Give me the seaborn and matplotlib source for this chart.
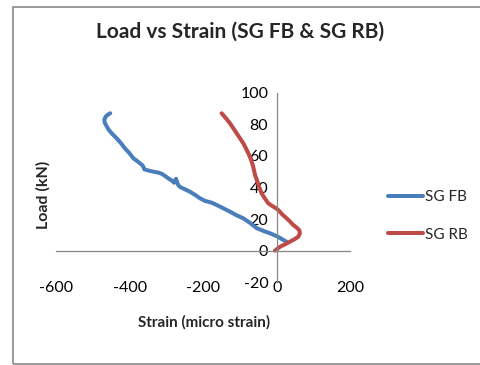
import numpy as np
import pandas as pd
import matplotlib
matplotlib.use("Agg")
import matplotlib.pyplot as plt
import seaborn as sns
from matplotlib.patches import Rectangle

# ---- data ----
fb_strain = [27, 18, 2, -18, -36, -54, -72, -91, -110, -127, -145, -163, -177, -195, -209,
             -222, -236, -250, -262, -268, -274, -279, -285, -295, -305, -313, -322, -335,
             -350, -360, -365, -372, -380, -390, -400, -413, -422, -431, -440, -449, -457,
             -463, -468, -469, -465, -458, -453]
fb_load = [5.7, 6.8, 9.0, 11.0, 12.5, 14.2, 17.5, 20.5, 22.5, 24.7, 26.8, 28.9, 30.4, 31.5, 33.2,
           35.3, 37.3, 38.9, 40.2, 41.5, 45.5, 43.0, 44.3, 45.8, 47.5, 48.7, 49.4, 50.0,
           50.8, 51.5, 54.0, 55.3, 56.8, 58.5, 61.5, 64.8, 67.5, 70.0, 72.2, 74.3, 76.5,
           78.9, 81.0, 83.0, 85.0, 86.3, 87.0]

rb_strain = [-5, 9, 25, 36, 50, 59, 63, 62, 55, 45, 36, 27, 15, 4, -5, -14, -23, -32, -41,
             -48, -54, -59, -64, -68, -73, -80, -86, -91, -100, -109, -118, -127, -138, -150]
rb_load = [0.0, 2.5, 4.3, 5.7, 7.5, 8.9, 11.0, 12.8, 14.5, 16.3, 18.5, 20.5, 23.0, 25.8, 27.3, 28.6,
           30.0, 33.0, 36.3, 40.5, 44.7, 48.0, 53.2, 56.3, 59.5, 63.0, 65.8, 68.0, 71.2, 74.3,
           77.5, 80.6, 83.8, 87.0]

series_names = ["SG FB", "SG RB"]
x_ticks = [-600, -400, -200, 0, 200]
y_ticks = [-20, 0, 20, 40, 60, 80, 100]

title_text = "Load vs Strain (SG FB & SG RB)"
x_label = "Strain (micro strain)"
y_label = "Load (kN)"

df = pd.concat([
    pd.DataFrame({"strain": fb_strain, "load": fb_load, "series": series_names[0],
                  "order": range(len(fb_strain))}),
    pd.DataFrame({"strain": rb_strain, "load": rb_load, "series": series_names[1],
                  "order": range(len(rb_strain))}),
], ignore_index=True)

sns.set_style("white")
plt.rcParams["font.family"] = ["Lato", "DejaVu Sans"]
plt.rcParams["axes.unicode_minus"] = False

W, H = 480, 365
fig = plt.figure(figsize=(W / 100, H / 100), dpi=100)

# axes placement (pixel-derived)
x0_px, x1_px = 56.2, 350.2
ytop_px, ybot_px = 92.7, 282.3
ax = fig.add_axes([x0_px / W, 1 - ybot_px / H, (x1_px - x0_px) / W, (ybot_px - ytop_px) / H])

palette = {"SG FB": "#4A7EBB", "SG RB": "#BE4B48"}
sns.lineplot(data=df, x="strain", y="load", hue="series", palette=palette, sort=False,
             estimator=None, units="series", linewidth=2.9, ax=ax, legend=True)

ax.set_xlim(-600, 200)
ax.set_ylim(-20, 100)
ax.set_xlabel("")
ax.set_ylabel("")

axis_col = "#868686"
for s in ["top", "right"]:
    ax.spines[s].set_visible(False)
ax.spines["left"].set_position(("data", 0))
ax.spines["bottom"].set_position(("data", 0))
for s in ["left", "bottom"]:
    ax.spines[s].set_color(axis_col)
    ax.spines[s].set_linewidth(0.9)

ax.set_yticks(y_ticks)
ax.set_xticks(x_ticks)
ax.tick_params(axis="y", direction="out", length=4, width=0.9, color=axis_col,
               labelsize=11.5, pad=2, labelcolor="black")
ax.tick_params(axis="x", direction="out", length=5, width=0.9, color=axis_col,
               labelbottom=False)

sec = ax.secondary_xaxis(0)
sec.set_xticks(x_ticks)
sec.tick_params(length=0, pad=-1, labelsize=11.5, labelcolor="black")
sec.spines["bottom"].set_visible(False)

# legend
handles, labels = ax.get_legend_handles_labels()
ax.legend_.remove()
leg = fig.legend(handles, labels, loc="center left", bbox_to_anchor=(388 / W, 1 - 216 / H),
                 frameon=False, fontsize=11, handlelength=2.3, handletextpad=0.15,
                 labelspacing=1.55, borderpad=0, borderaxespad=0)
for line in leg.get_lines():
    line.set_linewidth(2.9)

# titles / labels
fig.text(240 / W, 1 - 32 / H, title_text, ha="center", va="center", fontsize=15,
         fontweight="bold")
fig.text(204 / W, 1 - 322 / H, x_label, ha="center", va="center", fontsize=11,
         fontweight="bold")
fig.text(43 / W, 1 - 195 / H, y_label, ha="center", va="center", fontsize=11.5,
         fontweight="bold", rotation=90)

# chart border
fig.patches.append(Rectangle((13 / W, 1.5 / H), 1.2, (H - 7 - 1.5) / H, transform=fig.transFigure,
                             fill=False, edgecolor="#8a8a8a", linewidth=1.2, zorder=0))

fig.savefig("out.png", dpi=100)
